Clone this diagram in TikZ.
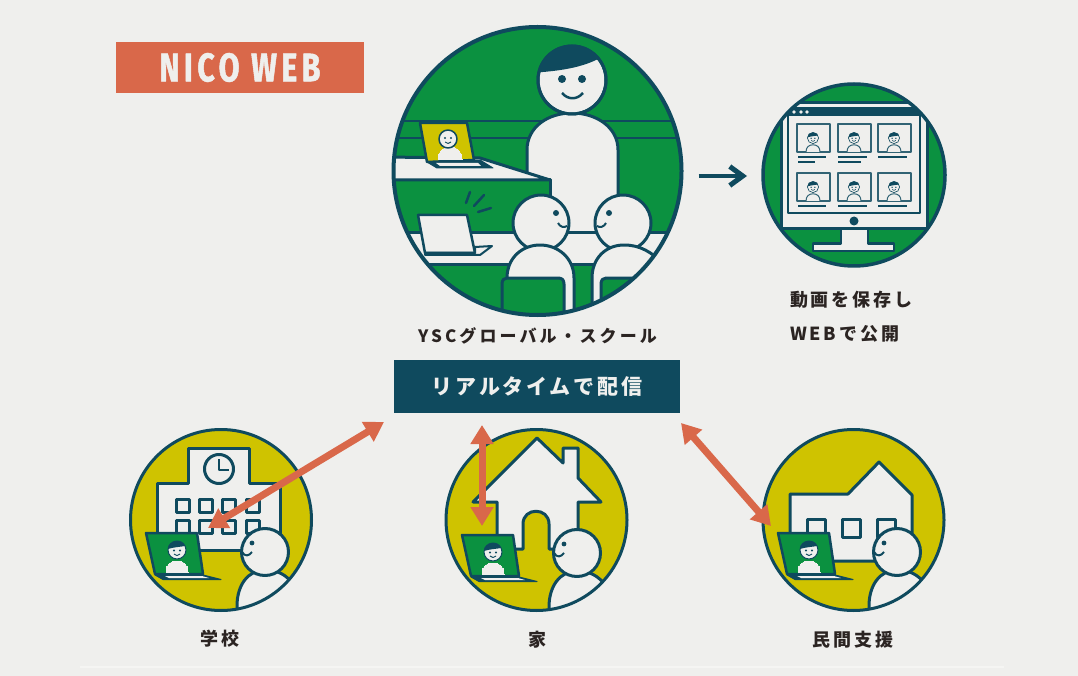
\documentclass[tikz,border=0pt]{standalone}
\usepackage{fontspec}
\usepackage{tikz}
\usetikzlibrary{arrows.meta}
\newfontfamily\cjk[LetterSpace=16]{Noto Sans CJK JP}
\newfontfamily\cjkname[LetterSpace=18]{Noto Sans CJK JP}
\newfontfamily\cjkwide[LetterSpace=13]{Noto Sans CJK JP}
\newfontfamily\logofont[FakeStretch=0.76,LetterSpace=11,FakeBold=1.2]{Fira Sans}
\definecolor{paper}{HTML}{EFEFED}
\definecolor{leaf}{HTML}{0B9140}
\definecolor{navy}{HTML}{0F4A5E}
\definecolor{olive}{HTML}{CFC300}
\definecolor{rust}{HTML}{D9684A}
\definecolor{ink}{HTML}{2B2422}

% small face with hair, used on the laptops and in the video tiles
\newcommand{\smallface}[3]{
  \begin{scope}[shift={(#1,#2)},scale=#3]
    \filldraw[fill=paper,line width=0pt,draw=paper] (-11,22) .. controls (-11,14) and (-6,11) .. (0,11) .. controls (6,11) and (11,14) .. (11,22) -- cycle;
    \filldraw[fill=paper,draw=navy,line width=#3*1pt] (0,0) circle[radius=9];
    \fill[navy] (-9,-1) .. controls (-9,-11) and (7,-11) .. (8,-4) .. controls (3,-3) and (-3,-3) .. (-9,-1) -- cycle;
    \fill[navy] (-3,0.5) circle[radius=1.2] (3,0.5) circle[radius=1.2];
    \draw[navy,line width=#3*0.9pt] (-3,4) .. controls (-1,6) and (1,6) .. (3,4);
  \end{scope}
}
% laptop with a face on its screen, as in the lower circles
\newcommand{\laptopset}[2]{
  \begin{scope}[shift={(#1,#2)}]
    \filldraw[fill=leaf,draw=navy,line width=2.5pt] (146,533) -- (197,533) -- (203,574) -- (155,574) -- cycle;
    \smallface{177}{550}{1}
    \filldraw[fill=navy,draw=navy,line width=1pt] (155,575) -- (203,575) -- (221,579.5) -- (163,579.5) -- cycle;
    \fill[paper] (165,576) -- (202,576) -- (209,578) -- (169,578) -- cycle;
  \end{scope}
}
% person looking left, cut off by the circle
\newcommand{\viewerset}[2]{
  \begin{scope}[shift={(#1,#2)}]
    \filldraw[fill=paper,draw=navy,line width=3pt] (237,625) -- (237,606) .. controls (237,585) and (248,570) .. (265,570) .. controls (277,570) and (286,574) .. (295,586) -- (295,625) -- cycle;
    \filldraw[fill=paper,draw=navy,line width=3pt] (265,552) circle[radius=23.5];
    \fill[navy] (252,543) circle[radius=2.4];
    \draw[navy,line width=2pt] (242,552) .. controls (245,557) and (249,556) .. (252,552);
  \end{scope}
}
% one video tile of the monitor
\newcommand{\videotile}[2]{
  \draw[navy!85!paper,line width=1.8pt,fill=paper] (#1,#2) rectangle ++(33,28);
  \smallface{#1+16}{#2+14}{0.62}
  \draw[navy!85!paper,line width=1pt] (#1+9,#2+28) .. controls (#1+9,#2+23) and (#1+12,#2+20.8) .. (#1+16,#2+20.8) .. controls (#1+20,#2+20.8) and (#1+23,#2+23) .. (#1+23,#2+28);
}

\begin{document}
\begin{tikzpicture}[x=1pt,y=-1pt,line join=round,
      every node/.append style={inner sep=0pt,outer sep=0pt,text=ink,font=\cjk\bfseries\fontsize{18}{20}\selectfont},
      ring/.style={circle,draw=navy,line width=3pt,minimum size=#1}]
  \tikzstyle{word} = [anchor=center]
  \tikzstyle{wire} = [draw=navy,line width=3pt]
  \tikzstyle{swap} = [draw=rust,line width=7pt,{Triangle[length=19pt,width=22pt]}-{Triangle[length=19pt,width=22pt]}]
  \useasboundingbox (0,0) rectangle (1078,676);
  \fill[paper] (0,0) rectangle (1078,676);
  \draw[color=white!35!paper,line width=1.5pt] (80,667) -- (1004,667);

  \node (logo) [fill=rust,minimum width=248pt,minimum height=51pt,text=paper,font=\logofont\bfseries\fontsize{40}{44}\selectfont] at (240,67.5) {NICO WEB};

  % classroom
  \begin{scope}
    \clip (537.5,171) circle[radius=145];
    \fill[leaf] (537.5,171) circle[radius=145];
    \draw[navy,line width=2.5pt] (380,121) -- (700,121) (380,138) -- (700,138);
    % teacher
    \filldraw[fill=paper,wire] (527,260) -- (527,150) .. controls (527,127) and (548,113) .. (572,113) .. controls (596,113) and (618,127) .. (618,150) -- (618,260) -- cycle;
    \filldraw[fill=paper,wire] (572,80) circle[radius=34];
    \begin{scope}
      \clip (572,80) circle[radius=34];
      \fill[navy] (530,73) -- (530,40) -- (602,40) -- (602,57) .. controls (582,68) and (560,71) .. (530,73) -- cycle;
    \end{scope}
    \draw[wire] (572,80) circle[radius=34];
    \fill[navy] (562,79) circle[radius=4] (582,79) circle[radius=4];
    \draw[navy,line width=2.5pt] (562,93) .. controls (568,100) and (577,100) .. (583,93);
    % desk at the back
    \filldraw[fill=leaf,wire] (380,180) -- (550,180) -- (550,240) -- (380,240) -- cycle;
    \filldraw[fill=paper,wire] (380,157) -- (480,158) -- (550,180) -- (380,180) -- cycle;
    \filldraw[fill=olive,draw=navy,line width=2.5pt] (420,123) -- (467,123) -- (474,160) -- (427,162) -- cycle;
    \filldraw[fill=paper,line width=0pt,draw=paper] (438,160) .. controls (438,151) and (443,147) .. (450,147) .. controls (457,147) and (462,151) .. (462,160) -- cycle;
    \filldraw[fill=paper,draw=navy,line width=1.5pt] (448,139) circle[radius=9];
    \fill[navy] (445,138) circle[radius=1.2] (451,138) circle[radius=1.2];
    \draw[navy,line width=0.9pt] (445,142) .. controls (447,144) and (449,144) .. (451,142);
    \filldraw[fill=navy,draw=navy,line width=1pt] (427,162) -- (480,160) -- (493,168) -- (437,168) -- cycle;
    \fill[paper] (436,163) -- (478,163) -- (481,166) -- (440,166) -- cycle;
    % table in front
    \filldraw[fill=paper,wire] (380,233) rectangle (700,264);
    \filldraw[fill=paper,draw=navy,line width=2.5pt] (418,215) -- (467,215) -- (475,253) -- (425,253) -- cycle;
    \filldraw[fill=paper,draw=navy,line width=2pt] (475,247) -- (492,246) -- (480,255) -- (425,255) -- (425,253) -- (475,253) -- cycle;
    \draw[navy,line width=2.5pt,line cap=round] (470,192) -- (466,203) (484,195) -- (474,206) (491,208) -- (478,212);
    % students
    \filldraw[fill=paper,wire] (541,223) circle[radius=28];
    \filldraw[fill=paper,wire] (623,223) circle[radius=28];
    \fill[navy] (556,213) circle[radius=3] (609,213) circle[radius=3];
    \draw[navy,line width=2pt] (558,223) .. controls (560,227) and (564,228) .. (567,226);
    \draw[navy,line width=2pt] (606,223) .. controls (604,227) and (600,228) .. (597,226);
    \filldraw[fill=paper,wire] (507,330) -- (507,278) .. controls (507,258) and (522,245) .. (540,245) .. controls (558,245) and (574,258) .. (574,278) -- (574,330) -- cycle;
    \filldraw[fill=paper,wire] (592,330) -- (592,278) .. controls (592,258) and (606,245) .. (624,245) .. controls (640,245) and (652,252) .. (664,265) -- (680,330) -- cycle;
    \filldraw[fill=leaf,wire] (502,330) -- (502,284) .. controls (502,280) and (504,278) .. (507,278) -- (558,278) .. controls (562,278) and (564,280) .. (564,284) -- (564,330) -- cycle;
    \filldraw[fill=leaf,wire] (601,330) -- (601,284) .. controls (601,280) and (603,278) .. (606,278) -- (680,278) -- (680,330) -- cycle;
  \end{scope}
  \node (classroom) [ring=288pt,line width=4pt] at (537.5,171) {};

  % monitor
  \begin{scope}
    \clip (854,175) circle[radius=91.5];
    \fill[leaf] (854,175) circle[radius=91.5];
    \filldraw[fill=paper,draw=navy,line width=2.5pt] (813,243.5) -- (841,243.5) -- (841,225) -- (868,225) -- (868,243.5) -- (894,243.5) -- (894,251) -- (813,251) -- cycle;
    \filldraw[fill=paper,wire] (781,103) rectangle (927,229);
    \draw[navy,line width=2.5pt] (788,108) rectangle (920,213);
    \fill[navy] (788,108) rectangle (920,116);
    \fill[paper] (794,112) circle[radius=1.9] (801,112) circle[radius=1.9] (807,112) circle[radius=1.9];
    \fill[navy] (854,221) circle[radius=4.5];
    \foreach \cx in {797,838,878}
      \foreach \cy in {124,173}
        {\videotile{\cx}{\cy}}
    \draw[navy,line width=2.5pt] (798,157) -- (826,157) (798,162) -- (815,162) (838,157) -- (867,157) (838,162) -- (861,162) (878,157) -- (907,157)
      (798,206) -- (826,206) (838,206) -- (867,206) (878,206) -- (907,206);
  \end{scope}
  \node (monitor) [ring=182pt,line width=3.5pt] at (854,175) {};
  \draw[navy,line width=4.5pt,-{Straight Barb[length=13pt,width=19pt,line width=5pt]}] ([xshift=17pt,yshift=-5pt]classroom.east) -- ([xshift=-16pt,yshift=-1pt]monitor.west);

  % labels of the upper part
  \node (schoolname) [word,font=\cjkname\bfseries\fontsize{17}{20}\selectfont] at (537.5,336) {YSCグローバル・スクール};
  \node (savedfirst) [anchor=west] at (790,300) {動画を保存し};
  \node (savedsecond) [anchor=west] at (790,334) {WEBで公開};
  \node (live) [fill=navy,minimum width=286pt,minimum height=53pt,text=paper,font=\cjkwide\bfseries\fontsize{21}{24}\selectfont] at (537,386.5) {リアルタイムで配信};

  % school
  \begin{scope}
    \clip (221,520) circle[radius=91];
    \fill[olive] (221,520) circle[radius=91];
    \filldraw[fill=paper,wire] (157,550) -- (157,483) -- (188,483) -- (188,448) -- (249,448) -- (249,483) -- (280,483) -- (280,550) -- cycle;
    \filldraw[fill=paper,wire] (219,469) circle[radius=14.5];
    \draw[navy,line width=2.5pt] (219,459) -- (219,470) -- (229,470);
    \foreach \wx in {183,206,229,253}
      \foreach \wy in {506,527}
        {\draw[wire,fill=paper] (\wx-6.5,\wy-6.5) rectangle ++(13,13);}
    \laptopset{0}{0}
    \viewerset{0}{0}
  \end{scope}
  \node (school) [ring=181pt] at (221,520) {};

  % home
  \begin{scope}
    \clip (536.5,520) circle[radius=91];
    \fill[olive] (536.5,520) circle[radius=91];
    \filldraw[fill=paper,wire] (497,549) -- (497,502) -- (473,502) -- (537,438) -- (563,463) -- (563,448) -- (578,448) -- (578,478) -- (601,502) -- (578,502) -- (578,549) -- (549,549) -- (549,524) .. controls (549,507) and (523,507) .. (523,524) -- (523,549) -- cycle;
    \laptopset{316}{2}
    \viewerset{312}{1}
  \end{scope}
  \node (home) [ring=181pt] at (536.5,520) {};

  % support centre
  \begin{scope}
    \clip (853.5,520) circle[radius=91];
    \fill[olive] (853.5,520) circle[radius=91];
    \filldraw[fill=paper,wire] (790,561) -- (790,494) -- (848,494) -- (879,462) -- (912,495) -- (912,561) -- cycle;
    \foreach \wx in {807,842,877}
      {\draw[wire,fill=paper] (\wx,519) rectangle ++(18,18);}
    \laptopset{632}{0}
    \viewerset{632}{0}
  \end{scope}
  \node (support) [ring=181pt] at (853.5,520) {};

  \coordinate (schoolend) at (208,528);
  \coordinate (homeend) at (482,526);
  \coordinate (supportend) at (771,526);
  \draw[swap] ([xshift=-10pt,yshift=-9pt]live.south west) -- (schoolend);
  \draw[swap] ([xshift=-55pt,yshift=-12pt]live.south) -- (homeend);
  \draw[swap] ([xshift=1pt,yshift=-10pt]live.south east) -- (supportend);

  \node (schoollabel) [word] at (220,639) {学校};
  \node (homelabel) [word] at (537,640) {家};
  \node (supportlabel) [word] at (853,640) {民間支援};
\end{tikzpicture}
\end{document}
